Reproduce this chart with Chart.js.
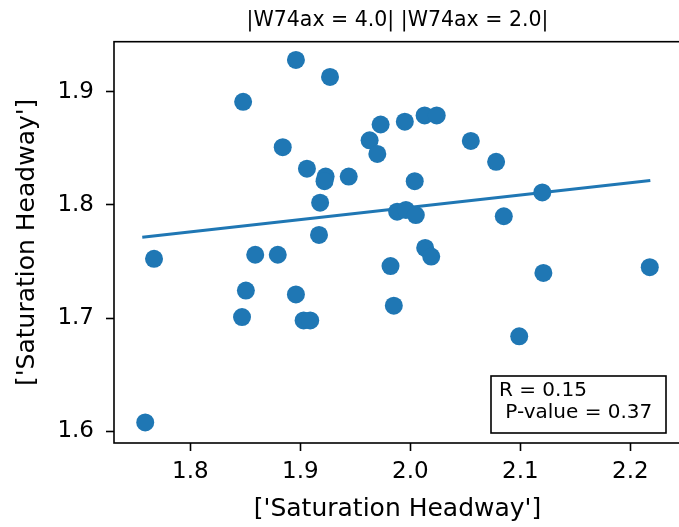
<!DOCTYPE html>
<html>
<head>
<meta charset="utf-8">
<script src="https://cdn.jsdelivr.net/npm/chart.js@4"></script>
<style>
  body { margin: 0; overflow: hidden; background: white; }
  canvas { display: block; }
</style>
</head>
<body>
<canvas id="graficoDispersion" width="690" height="527"></canvas>
<script>
// Datos (x, y de cada punto)
const headwayX = [
  1.896, 1.927, 1.848, 1.973, 1.884, 1.963, 1.970, 1.906, 1.923, 1.922,
  1.944, 1.918, 1.917, 1.995, 2.013, 2.024, 2.055, 2.078, 2.004, 2.120,
  1.988, 1.996, 2.005, 2.085, 2.0135, 2.019, 1.982, 1.985, 2.121, 2.099,
  2.2177, 1.767, 1.859, 1.8795, 1.8505, 1.896, 1.847, 1.903, 1.909, 1.759,
];
const headwayY = [
  1.928, 1.913, 1.891, 1.871, 1.851, 1.857, 1.845, 1.832, 1.825, 1.821,
  1.825, 1.802, 1.7735, 1.8735, 1.879, 1.879, 1.8565, 1.838, 1.821, 1.811,
  1.794, 1.7956, 1.791, 1.790, 1.762, 1.7544, 1.746, 1.711, 1.740, 1.684,
  1.745, 1.7524, 1.756, 1.756, 1.7244, 1.721, 1.701, 1.698, 1.698, 1.608,
];
// Recta de regresión (extremos leídos)
const fitX = [1.7563, 2.2182];
const fitY = [1.7715, 1.8215];

const xTicks = [1.8, 1.9, 2.0, 2.1, 2.2];
const yTicks = [1.6, 1.7, 1.8, 1.9];
const statsLines = ["R = 0.15", " P-value = 0.37"];
const titulo = "|W74ax = 4.0| |W74ax = 2.0|";
const etiquetaEje = "['Saturation Headway']";

const azul = "#1f77b4";
const fuente = "DejaVu Sans";

// Marco completo del área y cuadro con R y P-value
const marcoYTexto = {
  id: "marcoYTexto",
  afterDraw(chart) {
    const { ctx, chartArea } = chart;
    ctx.save();
    ctx.strokeStyle = "black";
    ctx.lineWidth = 1.6;
    ctx.strokeRect(
      chartArea.left,
      chartArea.top,
      chartArea.right - chartArea.left,
      chartArea.bottom - chartArea.top
    );

    const w = 175;
    const h = 57;
    const x0 = chartArea.right - 15 - w;
    const y0 = chartArea.bottom - 10 - h;
    ctx.fillStyle = "white";
    ctx.fillRect(x0, y0, w, h);
    ctx.lineWidth = 1.6;
    ctx.strokeRect(x0, y0, w, h);
    ctx.fillStyle = "black";
    ctx.font = "20px '" + fuente + "'";
    ctx.textAlign = "left";
    ctx.textBaseline = "middle";
    statsLines.forEach((linea, i) => {
      ctx.fillText(linea, x0 + 8, y0 + 15 + i * 22);
    });
    ctx.restore();
  },
};

const ctx = document.getElementById("graficoDispersion").getContext("2d");
const grafico = new Chart(ctx, {
  type: "scatter",
  data: {
    datasets: [
      {
        label: "puntos",
        data: headwayX.map((x, i) => ({ x: x, y: headwayY[i] })),
        backgroundColor: azul,
        borderWidth: 0,
        pointRadius: 9,
        pointHoverRadius: 9,
      },
      {
        label: "regresion",
        type: "line",
        data: fitX.map((x, i) => ({ x: x, y: fitY[i] })),
        borderColor: azul,
        borderWidth: 3,
        pointRadius: 0,
        fill: false,
      },
    ],
  },
  options: {
    responsive: false,
    animation: false,
    layout: { padding: 0 },
    scales: {
      x: {
        type: "linear",
        min: 1.7306,
        max: 2.2461,
        afterBuildTicks: (scale) => {
          scale.ticks = xTicks.map((v) => ({ value: v }));
        },
        afterFit: (scale) => {
          scale.height = 84;
        },
        grid: {
          drawOnChartArea: false,
          drawTicks: true,
          tickLength: 8,
          tickColor: "black",
          tickWidth: 1.6,
        },
        border: { display: false },
        ticks: {
          color: "black",
          padding: 7,
          font: { family: fuente, size: 23 },
          callback: (v) => Number(v).toFixed(1),
        },
        title: {
          display: true,
          text: etiquetaEje,
          color: "black",
          font: { family: fuente, size: 25 },
          padding: { top: 0, bottom: 3 },
        },
      },
      y: {
        type: "linear",
        min: 1.5898,
        max: 1.9441,
        afterBuildTicks: (scale) => {
          scale.ticks = yTicks.map((v) => ({ value: v }));
        },
        afterFit: (scale) => {
          scale.width = 114;
        },
        grid: {
          drawOnChartArea: false,
          drawTicks: true,
          tickLength: 8,
          tickColor: "black",
          tickWidth: 1.6,
        },
        border: { display: false },
        ticks: {
          color: "black",
          padding: 12,
          font: { family: fuente, size: 23 },
          callback: (v) => Number(v).toFixed(1),
        },
        title: {
          display: true,
          text: etiquetaEje,
          color: "black",
          font: { family: fuente, size: 25 },
          padding: { top: 12, bottom: 0 },
        },
      },
    },
    plugins: {
      legend: { display: false },
      tooltip: { enabled: false },
      title: {
        display: true,
        fullSize: false,
        text: titulo,
        color: "black",
        font: { family: fuente, size: 20.5, weight: "normal" },
        padding: { top: 8, bottom: 9.1 },
      },
    },
  },
  plugins: [marcoYTexto],
});
</script>
</body>
</html>
